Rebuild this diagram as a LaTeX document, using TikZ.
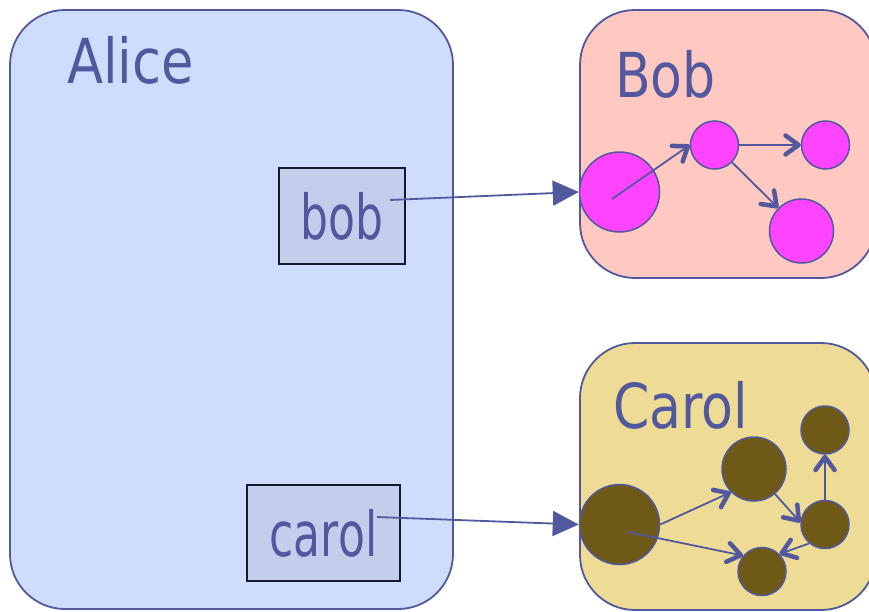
\documentclass[tikz,border=0pt]{standalone}
\usepackage{fontspec}
\setmainfont{DejaVu Sans}
\usetikzlibrary{arrows.meta}

\definecolor{edgeblue}{RGB}{82,88,158}
\definecolor{alicefill}{RGB}{208,220,252}
\definecolor{fieldfill}{RGB}{196,205,236}
\definecolor{fieldline}{RGB}{20,26,46}
\definecolor{bobfill}{RGB}{255,200,192}
\definecolor{carolfill}{RGB}{238,220,150}
\definecolor{objpink}{RGB}{255,68,255}
\definecolor{objbrown}{RGB}{110,89,22}

\tikzset{
  heap/.style={draw=edgeblue, line width=1.8pt, rounded corners=55pt, inner sep=0pt},
  field/.style={draw=fieldline, fill=fieldfill, line width=1.4pt, inner sep=0pt,
    text=edgeblue, font=\fontsize{62}{62}\selectfont},
  title/.style={anchor=base west, inner sep=0pt, text=edgeblue,
    font=\fontsize{62}{62}\selectfont},
  obj/.style={circle, draw=edgeblue, line width=1.5pt, inner sep=0pt},
  ref/.style={draw=edgeblue, line width=1.8pt, -{Triangle[length=26pt,width=25pt]}},
  link/.style={draw=edgeblue, line width=1.8pt,
    -{Straight Barb[length=13pt,width=19pt,line width=4.5pt,round]}},
}

\begin{document}
\begin{tikzpicture}[x=1pt,y=-1pt]
  \useasboundingbox (0,0) rectangle (869,611);
  \clip (0,0) rectangle (869,611);

  % the three heaps
  \node[heap, fill=alicefill, minimum width=443pt, minimum height=599pt] (alice) at (231.5,309.5) {};
  \node[heap, fill=bobfill, minimum width=296pt, minimum height=268pt] (bobheap) at (728,144) {};
  \node[heap, fill=carolfill, minimum width=296pt, minimum height=267pt] (carolheap) at (728,476.5) {};

  \node[title] (alicetitle) at (67,83) {\scalebox{0.85}[1]{Alice}};
  \node[title] (bobtitle) at (615,97) {\scalebox{0.84}[1]{Bob}};
  \node[title] (caroltitle) at (613,428) {\scalebox{0.84}[1]{Carol}};

  % Alice's reference fields
  \node[field, minimum width=126pt, minimum height=96pt] (bobfield) at (342,216) {\scalebox{0.71}[1]{bob}};
  \node[field, minimum width=153pt, minimum height=96pt] (carolfield) at (323.5,533) {\scalebox{0.71}[1]{carol}};

  % Bob's objects
  \node[obj, fill=objpink, minimum size=80pt] (b1) at (619.5,192) {};
  \node[obj, fill=objpink, minimum size=48pt] (b2) at (714.5,145) {};
  \node[obj, fill=objpink, minimum size=48pt] (b3) at (825.5,145) {};
  \node[obj, fill=objpink, minimum size=64pt] (b4) at (801.5,231) {};

  % Carol's objects
  \node[obj, fill=objbrown, minimum size=80pt] (c1) at (619.5,524.5) {};
  \node[obj, fill=objbrown, minimum size=64pt] (c2) at (754,469) {};
  \node[obj, fill=objbrown, minimum size=48pt] (c3) at (825,430) {};
  \node[obj, fill=objbrown, minimum size=48pt] (c4) at (825,524.5) {};
  \node[obj, fill=objbrown, minimum size=48pt] (c5) at (762,571.5) {};

  % inner starting points of references
  \coordinate (bobsrc) at (390,200);
  \coordinate (carolsrc) at (377,517);
  \coordinate (b1src) at (612,199);
  \coordinate (c1src) at (628,532);

  % references from Alice into the other heaps
  \draw[ref] (bobsrc) -- (b1.west);
  \draw[ref] (carolsrc) -- (c1.west);

  % links inside Bob
  \draw[link] (b1src) -- (b2.west);
  \draw[link] (b2) -- (b3);
  \draw[link] (b2) -- (b4);

  % links inside Carol
  \draw[link] (c1.east) -- (c2.225);
  \draw[link] (c1src) -- (c5.140);
  \draw[link] (c2.-50) -- (c4.175);
  \draw[link] (c4) -- (c3);
  \draw[link] (c4.230) -- (c5.45);
\end{tikzpicture}
\end{document}
